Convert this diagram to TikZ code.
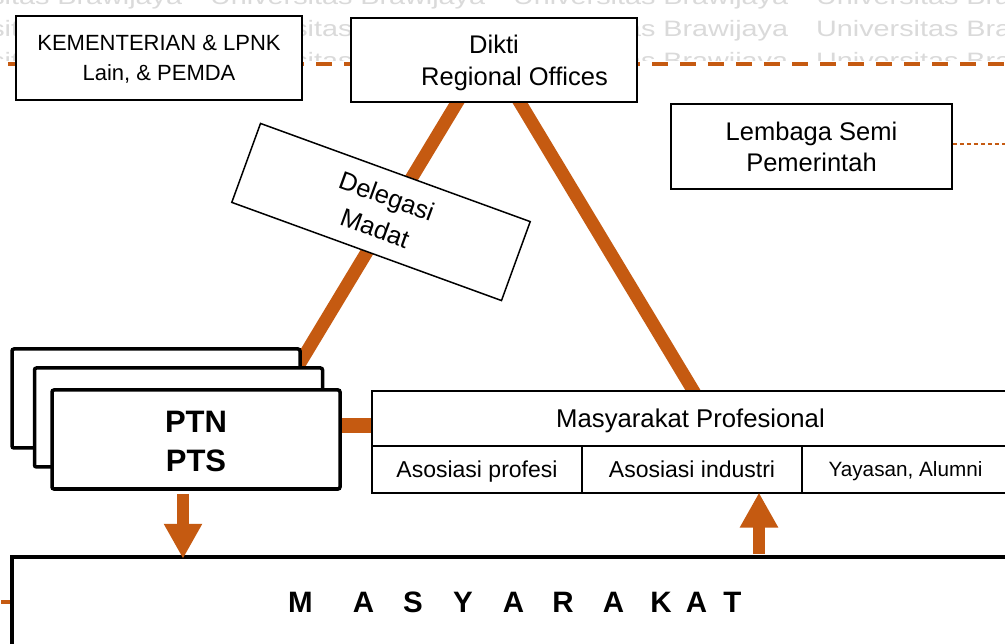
\documentclass[tikz,border=0pt]{standalone}
\usepackage{fontspec}
\setmainfont{Liberation Sans}
\newfontfamily\wmfont{Liberation Sans}[FakeStretch=1.29]
\usetikzlibrary{arrows.meta,calc,backgrounds}
\definecolor{orng}{RGB}{197,90,17}
\definecolor{wmgray}{RGB}{218,218,218}
\newcommand\Lt[1]{\makebox[0pt]{#1}}
\newcommand\fs[2]{\fontsize{#1}{#2}\selectfont}
\begin{document}
\begin{tikzpicture}[x=1pt,y=-1pt,
  thinbox/.style={draw=black, line width=1.5pt, fill=white, inner sep=0pt, align=center, text depth=0pt},
  cellbox/.style={draw=black, line width=1.2pt, fill=white, inner sep=0pt, align=center, text depth=0pt},
  ptnbox/.style={draw=black, line width=3.5pt, fill=white, rounded corners=2pt, inner sep=0pt,
     minimum width=288pt, minimum height=99pt, align=center},
  tri/.style={draw=orng, line width=13pt},
  dashline/.style={draw=orng, line width=4pt, dash pattern=on 16pt off 12pt},
  thindash/.style={draw=orng, line width=1.3pt, dash pattern=on 4pt off 3pt},
  bar/.style={draw=orng, line width=15pt},
  bigarrow/.style={draw=orng, line width=12pt, -{Triangle[width=36pt,length=35pt]}},
  wm/.style={text=wmgray, font=\wmfont\fs{22.3}{26}, inner sep=0pt, anchor=base west}
]
\useasboundingbox (0,0) rectangle (1005,644);

% top boxes
\node[thinbox, minimum width=286pt, minimum height=84pt, font=\fs{22}{30}] (kem) at (159,58)
  {KEMENTERIAN \& LPNK\\Lain, \& PEMDA};
\node[thinbox, minimum width=286pt, minimum height=84pt, font=\fs{25.5}{32}] (dikti) at (494,60)
  {Dikti\\\hspace*{41pt}Regional Offices};
\node[thinbox, minimum width=281pt, minimum height=85pt, font=\fs{25.5}{31}] (lem) at (811.5,146.5)
  {Lembaga Semi\\Pemerintah};

% delegation box
\node[thinbox, minimum width=287pt, minimum height=84pt, rotate=-20, font=\fs{25.5}{34}] (deleg) at (381,212)
  {Delegasi\\Madat};

% PTN / PTS stack
\node[ptnbox] (ptnA) at (156,398.5) {};
\node[ptnbox] (ptnB) at (178.5,417.5) {};
\node[ptnbox, font=\bfseries\fs{31}{39}] (ptnC) at (196,439.5) {\rule{0pt}{26pt}PTN\\PTS};

% Masyarakat Profesional table
\node[cellbox, minimum width=637pt, minimum height=55pt, font=\fs{25.7}{30}] (mp) at (690.5,418.5)
  {Masyarakat Profesional};
\node[cellbox, minimum width=210pt, minimum height=47pt, font=\fs{23}{28}] (c1) at (477,469.5)
  {Asosiasi profesi};
\node[cellbox, minimum width=220pt, minimum height=47pt, font=\fs{23}{28}] (c2) at (692,469.5)
  {Asosiasi industri};
\node[cellbox, minimum width=207pt, minimum height=47pt, font=\fs{20.7}{26}] (c3) at (905.5,469.5)
  {Yayasan, Alumni};

% Masyarakat
\node[draw=black, line width=3.5pt, fill=white, inner sep=0pt, minimum width=1009pt, minimum height=90pt,
  font=\bfseries\fs{29.5}{34}] (masy) at (516.5,602)
  {\Lt{M}\hspace{63pt}\Lt{A}\hspace{49.5pt}\Lt{S}\hspace{50pt}\Lt{Y}\hspace{50.5pt}\Lt{A}\hspace{49.5pt}\Lt{R}\hspace{50.5pt}\Lt{A}\hspace{47.5pt}\Lt{K}\hspace{35.5pt}\Lt{A}\hspace{36pt}\Lt{T}};

% arrows
\draw[bigarrow] ($(ptnC.south)+(-13,3)$) -- ($(ptnC.south)+(-13,68)$);
\draw[bigarrow] ($(c2.south)+(67,60)$) -- ($(c2.south)+(67,-1)$);

\begin{pgfonlayer}{background}
  \fill[white] (0,0) rectangle (1005,644);
  \begin{scope}
    \clip (0,0) rectangle (1005,61);
    \foreach \r/\yy in {1/5,2/37,3/69}{
      \foreach \k/\xx in {0/-93,1/210,2/513,3/816}{
        \node[wm] (wm\r\k) at (\xx,\yy) {Universitas Brawijaya};
      }
    }
  \end{scope}
  \coordinate (topL) at (8,64);
  \coordinate (topR) at (1010,64);
  \draw[dashline] (topL) -- (topR);
  \draw[dashline] ($(masy.west)+(-9,0)$) -- (masy.west);
  \draw[thindash] ($(lem.east)+(0,-2.5)$) -- ($(lem.east)+(60,-2.5)$);
  \draw[tri] ($(dikti.south)+(-31,-10)$) -- ($(ptnA.north east)+(-8,26)$);
  \draw[tri] ($(dikti.south)+(20,-10)$) -- ($(mp.north)+(8,9)$);
  \draw[bar] ($(ptnC.east)+(0,-14)$) -- ($(ptnC.east -| mp.west)+(0,-14)$);
\end{pgfonlayer}
\end{tikzpicture}
\end{document}
